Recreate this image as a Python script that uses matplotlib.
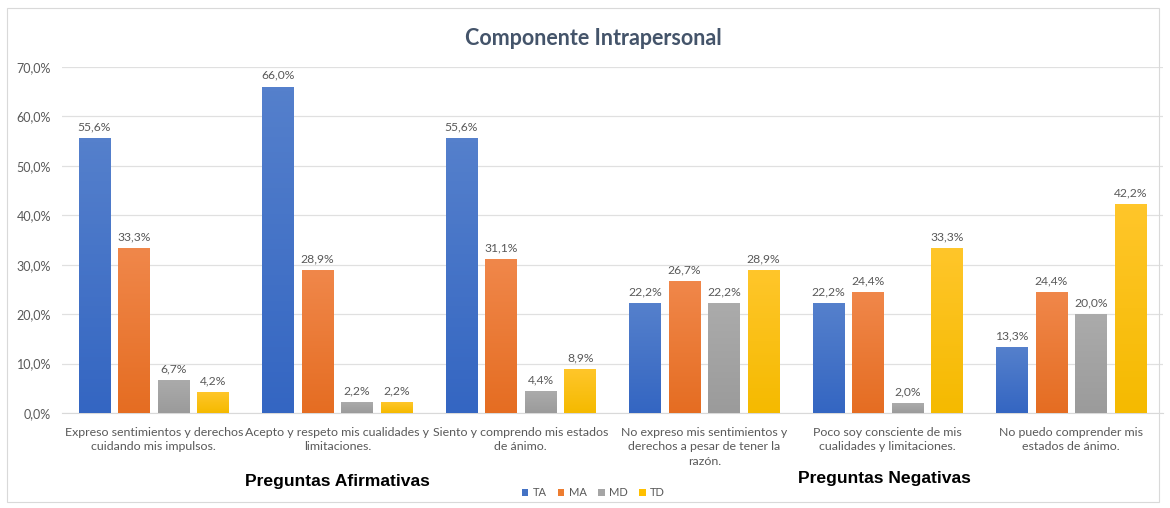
import numpy as np
import matplotlib.pyplot as plt
from matplotlib.patches import Rectangle
from matplotlib.colors import LinearSegmentedColormap

# data
categories = [
    "Expreso sentimientos y derechos\ncuidando mis impulsos.",
    "Acepto y respeto mis cualidades y\nlimitaciones.",
    "Siento y comprendo mis estados\nde ánimo.",
    "No expreso mis sentimientos y\nderechos a pesar de tener la\nrazón.",
    "Poco soy consciente de mis\ncualidades y limitaciones.",
    "No puedo comprender mis\nestados de ánimo.",
]
series_names = ["TA", "MA", "MD", "TD"]
ta = [55.6, 66.0, 55.6, 22.2, 22.2, 13.3]
ma = [33.3, 28.9, 31.1, 26.7, 24.4, 24.4]
md = [6.7, 2.2, 4.4, 22.2, 2.0, 20.0]
td = [4.2, 2.2, 8.9, 28.9, 33.3, 42.2]
yticks = [0, 10, 20, 30, 40, 50, 60, 70]

colors = ["#4472C4", "#ED7D31", "#A5A5A5", "#FFC000"]
# (top, bottom) shades for the gradient fill
shades = [("#5580CC", "#3466C2"), ("#F0874A", "#E56D22"),
          ("#ABABAB", "#9B9B9B"), ("#FFC62A", "#F5BA00")]
text_gray = "#595959"
font = ["Lato", "DejaVu Sans"]

fig = plt.figure(figsize=(11.7, 5.08), dpi=100)
ax = fig.add_axes([0.053, 0.187, 0.941, 0.681])

x = np.arange(len(categories))
width = 0.172
step = 0.216
offsets = (np.arange(4) - 1.5) * step
grad = np.linspace(1, 0, 64).reshape(-1, 1)
for vals, name, col, sh, off in zip([ta, ma, md, td], series_names, colors, shades, offsets):
    bars = ax.bar(x + off, vals, width, color=col, label=name, zorder=3)
    cmap = LinearSegmentedColormap.from_list(name, [sh[1], sh[0]])
    for b, v in zip(bars, vals):
        x0 = b.get_x()
        im = ax.imshow(grad, cmap=cmap, extent=[x0, x0 + width, 0, v],
                       aspect="auto", origin="upper", zorder=3.5)
        im.set_clip_path(b)
        ax.text(x0 + width / 2, v + 1.2, f"{v:.1f}%".replace(".", ","),
                ha="center", va="bottom", fontsize=8.7, color=text_gray, family=font)

ax.set_xlim(-0.5, len(categories) - 0.5)
ax.set_ylim(0, 70)
ax.set_yticks(yticks)
ax.set_yticklabels([f"{t:.1f}%".replace(".", ",") for t in yticks],
                   fontsize=9, color=text_gray, family=font)
ax.yaxis.grid(True, color="#E0E0E0", linewidth=0.9, zorder=0)
ax.set_xticks(x)
ax.set_xticklabels(categories, fontsize=8.9, color=text_gray, family=font,
                   linespacing=1.4, va="top")
ax.tick_params(axis="both", length=0)
ax.tick_params(axis="x", pad=10)
ax.tick_params(axis="y", pad=8)
for s in ["top", "right", "left"]:
    ax.spines[s].set_visible(False)
ax.spines["bottom"].set_color("#D9D9D9")

fig.text(0.507, 0.925, "Componente Intrapersonal", ha="center", va="center",
         fontsize=15.5, fontweight="bold", color="#44546A", family=font)
fig.text(0.288, 0.053, "Preguntas Afirmativas", ha="center", va="center",
         fontsize=12.6, fontweight="bold", color="black", family="Liberation Sans")
fig.text(0.756, 0.059, "Preguntas Negativas", ha="center", va="center",
         fontsize=12.6, fontweight="bold", color="black", family="Liberation Sans")

fig.legend(loc="center", bbox_to_anchor=(0.507, 0.03), ncol=4, frameon=False,
           handlelength=0.6, handleheight=0.6, handletextpad=0.4,
           columnspacing=1.0, labelcolor=text_gray, prop={"family": font, "size": 8})

fig.patches.append(Rectangle((0.006, 0.012), 0.985, 0.972, transform=fig.transFigure,
                             fill=False, edgecolor="#D9D9D9", linewidth=0.8))

fig.savefig("out.png", dpi=100)
